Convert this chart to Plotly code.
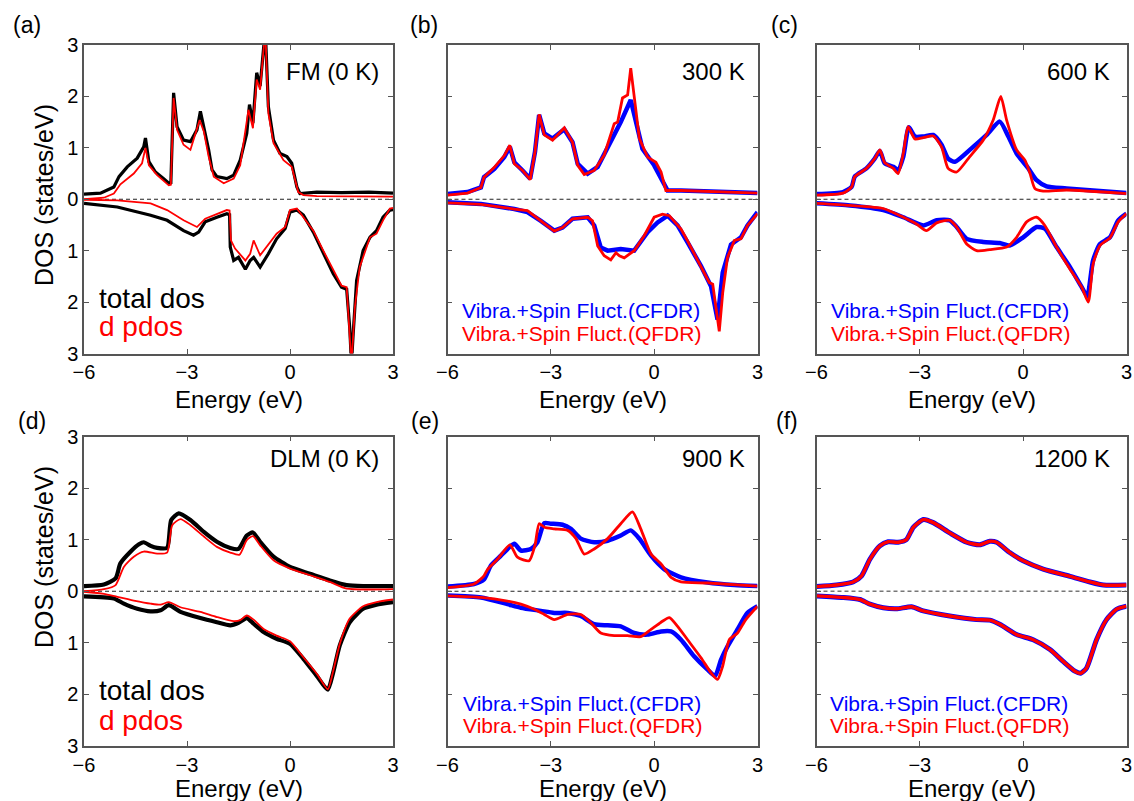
import plotly.graph_objects as go

W, H = 1134, 801

# ---------------- data: (energy eV, DOS states/eV); spin-down stored as negative ----------------
# (a) FM (0 K)
a_up_total = [(-6.00, 0.10), (-5.52, 0.12), (-5.13, 0.24), (-4.98, 0.44), (-4.74, 0.63), (-4.45, 0.80),
              (-4.26, 1.02), (-4.21, 1.19), (-4.11, 0.73), (-3.92, 0.53), (-3.68, 0.40), (-3.53, 0.31),
              (-3.47, 0.32), (-3.39, 2.07), (-3.29, 1.41), (-3.10, 1.15), (-2.90, 1.12), (-2.71, 1.35),
              (-2.61, 1.71), (-2.51, 1.41), (-2.37, 0.96), (-2.27, 0.57), (-2.13, 0.44), (-1.84, 0.40),
              (-1.64, 0.47), (-1.45, 0.76), (-1.26, 1.28), (-1.18, 1.84), (-1.08, 1.48), (-0.97, 2.46),
              (-0.87, 2.20), (-0.72, 3.30), (-0.63, 1.80), (-0.48, 1.15), (-0.29, 0.89), (-0.09, 0.83),
              (0.05, 0.70), (0.20, 0.24), (0.29, 0.11), (0.78, 0.14), (1.50, 0.13), (2.30, 0.14), (3.00, 0.12)]
a_up_d = [(-6.00, 0.00), (-5.42, 0.03), (-5.13, 0.11), (-4.94, 0.29), (-4.55, 0.50), (-4.31, 0.70),
          (-4.21, 1.00), (-4.11, 0.66), (-3.87, 0.47), (-3.53, 0.27), (-3.47, 0.28), (-3.39, 1.97),
          (-3.29, 1.35), (-3.10, 1.06), (-2.90, 0.96), (-2.63, 1.54), (-2.51, 1.32), (-2.37, 0.83),
          (-2.22, 0.44), (-1.93, 0.31), (-1.64, 0.40), (-1.45, 0.66), (-1.21, 1.74), (-1.08, 1.38),
          (-0.97, 2.33), (-0.87, 2.13), (-0.72, 3.30), (-0.63, 1.67), (-0.48, 1.09), (-0.19, 0.76),
          (0.05, 0.63), (0.24, 0.14), (0.39, 0.08), (0.78, 0.06), (3.00, 0.05)]
a_dn_total = [(-6.00, -0.08), (-5.03, -0.15), (-4.06, -0.31), (-3.58, -0.41), (-3.10, -0.61), (-2.81, -0.70),
              (-2.66, -0.64), (-2.47, -0.44), (-2.13, -0.35), (-1.84, -0.28), (-1.76, -0.30), (-1.74, -0.93),
              (-1.64, -1.19), (-1.50, -1.13), (-1.30, -1.36), (-1.16, -1.19), (-1.06, -1.13), (-0.87, -1.32),
              (-0.63, -1.06), (-0.39, -0.77), (-0.14, -0.57), (0.00, -0.25), (0.20, -0.21), (0.39, -0.31),
              (0.68, -0.64), (0.97, -1.06), (1.26, -1.45), (1.50, -1.71), (1.65, -1.75), (1.74, -2.50),
              (1.79, -3.20), (1.84, -2.62), (1.94, -1.58), (2.13, -1.00), (2.33, -0.74), (2.52, -0.61),
              (2.71, -0.35), (2.91, -0.21), (3.00, -0.20)]
a_dn_d = [(-6.00, -0.01), (-5.03, -0.02), (-4.06, -0.08), (-3.58, -0.21), (-3.10, -0.41), (-2.71, -0.54),
          (-2.47, -0.38), (-2.13, -0.28), (-1.84, -0.21), (-1.76, -0.22), (-1.72, -0.80), (-1.60, -0.96),
          (-1.30, -1.19), (-1.16, -1.06), (-1.06, -0.80), (-0.87, -1.09), (-0.63, -0.87), (-0.39, -0.67),
          (-0.14, -0.54), (0.00, -0.21), (0.20, -0.18), (0.68, -0.61), (0.97, -1.00), (1.26, -1.39),
          (1.50, -1.68), (1.65, -1.71), (1.79, -3.20), (1.89, -2.10), (2.03, -1.32), (2.33, -0.74),
          (2.52, -0.67), (2.71, -0.41), (2.91, -0.18), (3.00, -0.17)]

# (b) 300 K
b_up_cfdr = [(-6.00, 0.10), (-5.42, 0.14), (-5.03, 0.23), (-4.94, 0.43), (-4.64, 0.59), (-4.35, 0.82),
             (-4.19, 1.02), (-4.06, 0.72), (-3.82, 0.56), (-3.60, 0.40), (-3.46, 0.92), (-3.34, 1.64),
             (-3.19, 1.28), (-2.95, 1.18), (-2.61, 1.36), (-2.37, 1.11), (-2.22, 0.69), (-1.93, 0.50),
             (-1.64, 0.63), (-1.26, 1.11), (-0.97, 1.50), (-0.68, 1.93), (-0.53, 1.50), (-0.34, 0.98),
             (0.00, 0.66), (0.20, 0.40), (0.39, 0.17), (0.78, 0.17), (1.74, 0.15), (3.00, 0.12)]
b_up_qfdr = [(-6.00, 0.08), (-5.42, 0.12), (-5.03, 0.23), (-4.94, 0.43), (-4.64, 0.62), (-4.35, 0.85),
             (-4.19, 1.05), (-4.06, 0.69), (-3.82, 0.56), (-3.60, 0.38), (-3.46, 0.92), (-3.34, 1.65),
             (-3.19, 1.25), (-2.95, 1.15), (-2.61, 1.39), (-2.37, 1.11), (-2.22, 0.66), (-2.03, 0.48),
             (-1.74, 0.56), (-1.45, 0.86), (-1.16, 1.47), (-1.06, 1.50), (-0.92, 1.97), (-0.77, 2.03),
             (-0.68, 2.55), (-0.58, 1.99), (-0.43, 1.18), (-0.19, 0.82), (0.05, 0.72), (0.20, 0.53),
             (0.34, 0.17), (0.78, 0.17), (3.00, 0.12)]
b_dn_cfdr = [(-6.00, -0.06), (-5.03, -0.09), (-4.06, -0.19), (-3.68, -0.25), (-3.29, -0.42), (-2.90, -0.61),
             (-2.66, -0.55), (-2.37, -0.38), (-1.93, -0.35), (-1.74, -0.51), (-1.55, -0.94), (-1.35, -1.00),
             (-0.97, -0.97), (-0.58, -1.00), (-0.19, -0.64), (0.10, -0.45), (0.39, -0.32), (0.68, -0.51),
             (0.97, -0.84), (1.36, -1.30), (1.65, -1.69), (1.84, -2.34), (1.99, -1.43), (2.23, -0.88),
             (2.52, -0.74), (2.71, -0.51), (3.00, -0.25)]
b_dn_qfdr = [(-6.00, -0.07), (-5.03, -0.10), (-4.06, -0.19), (-3.68, -0.22), (-3.29, -0.42), (-2.90, -0.62),
             (-2.66, -0.55), (-2.37, -0.38), (-1.93, -0.35), (-1.79, -0.42), (-1.64, -0.91), (-1.45, -1.10),
             (-1.26, -1.18), (-1.11, -1.04), (-1.01, -1.10), (-0.87, -1.14), (-0.58, -1.00), (-0.29, -0.71),
             (0.00, -0.35), (0.24, -0.29), (0.44, -0.32), (0.78, -0.58), (0.97, -0.81), (1.36, -1.33),
             (1.60, -1.62), (1.70, -1.65), (1.79, -2.08), (1.89, -2.57), (1.99, -1.82), (2.13, -1.13),
             (2.33, -0.80), (2.52, -0.77), (2.71, -0.51), (3.00, -0.28)]

# (c) 600 K
c_up_cfdr = [(-6.00, 0.10), (-5.23, 0.14), (-4.98, 0.24), (-4.89, 0.44), (-4.55, 0.60), (-4.31, 0.79),
             (-4.16, 0.94), (-4.02, 0.70), (-3.77, 0.63), (-3.63, 0.57), (-3.48, 0.83), (-3.32, 1.40),
             (-3.14, 1.22), (-2.90, 1.22), (-2.61, 1.25), (-2.37, 1.06), (-2.18, 0.79), (-1.98, 0.73),
             (-1.55, 0.96), (-1.06, 1.25), (-0.68, 1.51), (-0.43, 1.22), (-0.19, 0.89), (0.15, 0.60),
             (0.39, 0.37), (0.68, 0.25), (1.26, 0.21), (3.00, 0.12)]
c_up_qfdr = [(-6.00, 0.08), (-5.23, 0.12), (-4.98, 0.24), (-4.89, 0.44), (-4.55, 0.60), (-4.31, 0.79),
             (-4.16, 0.96), (-4.02, 0.71), (-3.77, 0.60), (-3.63, 0.50), (-3.48, 0.89), (-3.34, 1.41),
             (-3.14, 1.17), (-2.90, 1.20), (-2.61, 1.23), (-2.37, 1.02), (-2.18, 0.60), (-1.93, 0.53),
             (-1.55, 0.83), (-1.16, 1.15), (-0.87, 1.54), (-0.65, 2.00), (-0.48, 1.54), (-0.19, 0.96),
             (0.05, 0.76), (0.20, 0.50), (0.34, 0.21), (0.58, 0.16), (1.26, 0.18), (3.00, 0.11)]
c_dn_cfdr = [(-6.00, -0.08), (-5.03, -0.12), (-4.06, -0.21), (-3.48, -0.35), (-2.90, -0.51), (-2.51, -0.41),
             (-2.13, -0.41), (-1.93, -0.54), (-1.64, -0.77), (-1.16, -0.83), (-0.68, -0.85), (-0.39, -0.90),
             (0.00, -0.74), (0.39, -0.54), (0.63, -0.57), (0.97, -0.93), (1.36, -1.32), (1.70, -1.71),
             (1.86, -1.88), (2.03, -1.19), (2.23, -0.87), (2.52, -0.74), (2.76, -0.41), (3.00, -0.28)]
c_dn_qfdr = [(-6.00, -0.08), (-5.03, -0.12), (-4.06, -0.18), (-3.48, -0.35), (-3.10, -0.48), (-2.81, -0.61),
             (-2.51, -0.46), (-2.13, -0.41), (-1.93, -0.54), (-1.64, -0.87), (-1.35, -1.00), (-0.97, -0.98),
             (-0.48, -0.93), (-0.19, -0.74), (0.10, -0.44), (0.39, -0.35), (0.63, -0.51), (0.97, -0.93),
             (1.36, -1.36), (1.70, -1.71), (1.89, -2.00), (2.03, -1.26), (2.23, -0.90), (2.52, -0.75),
             (2.76, -0.44), (3.00, -0.28)]

# (d) DLM (0 K)
d_up_total = [(-6.00, 0.10), (-5.42, 0.13), (-5.08, 0.25), (-4.94, 0.54), (-4.64, 0.77), (-4.40, 0.91),
              (-4.26, 0.95), (-4.06, 0.88), (-3.87, 0.84), (-3.58, 0.84), (-3.46, 1.38), (-3.24, 1.51),
              (-2.90, 1.38), (-2.51, 1.15), (-2.13, 0.96), (-1.74, 0.84), (-1.50, 0.82), (-1.26, 1.08),
              (-1.08, 1.14), (-0.87, 0.96), (-0.48, 0.67), (0.00, 0.47), (0.58, 0.34), (1.16, 0.21),
              (1.65, 0.12), (2.13, 0.10), (3.00, 0.10)]
d_up_d = [(-6.00, 0.00), (-5.42, 0.04), (-5.08, 0.12), (-4.84, 0.47), (-4.55, 0.67), (-4.26, 0.77),
          (-3.87, 0.73), (-3.58, 0.75), (-3.43, 1.28), (-3.19, 1.40), (-2.90, 1.28), (-2.51, 1.06),
          (-2.13, 0.86), (-1.74, 0.75), (-1.47, 0.71), (-1.26, 0.99), (-1.08, 1.07), (-0.87, 0.89),
          (-0.48, 0.60), (0.00, 0.44), (0.58, 0.31), (1.16, 0.18), (1.65, 0.05), (3.00, 0.04)]
d_dn_total = [(-6.00, -0.10), (-5.13, -0.14), (-4.84, -0.24), (-4.45, -0.34), (-4.06, -0.39), (-3.77, -0.37),
              (-3.53, -0.27), (-3.19, -0.40), (-2.61, -0.52), (-2.13, -0.60), (-1.74, -0.66), (-1.50, -0.61),
              (-1.26, -0.52), (-1.06, -0.63), (-0.77, -0.79), (-0.39, -0.92), (0.00, -1.02), (0.39, -1.31),
              (0.78, -1.64), (1.10, -1.91), (1.26, -1.57), (1.45, -1.05), (1.74, -0.60), (2.13, -0.34),
              (2.52, -0.26), (3.00, -0.21)]
d_dn_d = [(-6.00, -0.01), (-5.42, -0.05), (-5.03, -0.11), (-4.55, -0.18), (-4.06, -0.24), (-3.77, -0.26),
          (-3.53, -0.21), (-3.19, -0.31), (-2.61, -0.40), (-2.13, -0.50), (-1.64, -0.58), (-1.45, -0.56),
          (-1.26, -0.47), (-1.06, -0.55), (-0.77, -0.73), (-0.39, -0.86), (0.00, -0.97), (0.39, -1.28),
          (0.78, -1.60), (1.10, -1.90), (1.26, -1.54), (1.45, -1.02), (1.74, -0.53), (2.13, -0.29),
          (2.52, -0.21), (3.00, -0.16)]

# (e) 900 K
e_up_cfdr = [(-6.00, 0.09), (-5.23, 0.14), (-4.94, 0.23), (-4.74, 0.50), (-4.45, 0.69), (-4.21, 0.85),
             (-4.06, 0.92), (-3.87, 0.79), (-3.58, 0.82), (-3.39, 0.95), (-3.19, 1.32), (-3.00, 1.31),
             (-2.66, 1.29), (-2.42, 1.21), (-2.13, 1.02), (-1.74, 0.95), (-1.35, 0.98), (-0.97, 1.08),
             (-0.68, 1.18), (-0.43, 1.02), (-0.09, 0.69), (0.29, 0.43), (0.78, 0.27), (1.55, 0.17),
             (2.33, 0.12), (3.00, 0.10)]
e_up_qfdr = [(-6.00, 0.07), (-5.23, 0.14), (-4.94, 0.30), (-4.84, 0.42), (-4.55, 0.62), (-4.19, 0.90),
             (-3.97, 0.66), (-3.63, 0.59), (-3.46, 0.89), (-3.34, 1.31), (-3.19, 1.24), (-2.90, 1.21),
             (-2.51, 1.18), (-2.27, 1.02), (-2.03, 0.72), (-1.74, 0.82), (-1.35, 1.02), (-0.97, 1.31),
             (-0.63, 1.54), (-0.39, 1.21), (-0.09, 0.72), (0.20, 0.53), (0.49, 0.27), (0.78, 0.18),
             (1.55, 0.16), (3.00, 0.10)]
e_dn_cfdr = [(-6.00, -0.08), (-5.03, -0.12), (-4.26, -0.25), (-3.87, -0.32), (-3.29, -0.38), (-2.90, -0.42),
             (-2.51, -0.42), (-2.13, -0.48), (-1.74, -0.64), (-1.35, -0.66), (-0.97, -0.68), (-0.58, -0.81),
             (-0.19, -0.84), (0.20, -0.78), (0.49, -0.78), (0.78, -0.94), (1.16, -1.26), (1.55, -1.52),
             (1.77, -1.64), (1.94, -1.33), (2.13, -1.07), (2.42, -0.74), (2.71, -0.42), (3.00, -0.29)]
e_dn_qfdr = [(-6.00, -0.09), (-5.03, -0.12), (-4.26, -0.19), (-3.87, -0.25), (-3.48, -0.35), (-3.19, -0.45),
             (-2.90, -0.55), (-2.51, -0.45), (-2.13, -0.45), (-1.84, -0.61), (-1.55, -0.81), (-1.16, -0.86),
             (-0.77, -0.86), (-0.39, -0.88), (-0.09, -0.74), (0.20, -0.60), (0.44, -0.51), (0.68, -0.68),
             (0.97, -0.94), (1.36, -1.29), (1.65, -1.58), (1.84, -1.71), (1.99, -1.45), (2.18, -0.94),
             (2.42, -0.81), (2.66, -0.55), (3.00, -0.29)]

# (f) 1200 K  (CFDR and QFDR coincide)
f_up_cfdr = [(-6.00, 0.09), (-5.42, 0.12), (-4.94, 0.18), (-4.69, 0.30), (-4.45, 0.62), (-4.16, 0.88),
             (-3.92, 0.96), (-3.63, 0.95), (-3.39, 1.00), (-3.19, 1.24), (-2.90, 1.39), (-2.61, 1.33),
             (-2.13, 1.13), (-1.64, 0.95), (-1.26, 0.90), (-0.97, 0.97), (-0.77, 0.95), (-0.39, 0.75),
             (0.00, 0.59), (0.58, 0.43), (1.36, 0.29), (1.94, 0.18), (2.33, 0.12), (3.00, 0.12)]
f_up_qfdr = [(-6.00, 0.09), (-5.42, 0.12), (-4.94, 0.18), (-4.69, 0.30), (-4.45, 0.62), (-4.16, 0.88),
             (-3.92, 0.96), (-3.63, 0.95), (-3.39, 1.00), (-3.19, 1.24), (-2.90, 1.39), (-2.61, 1.33),
             (-2.13, 1.13), (-1.64, 0.95), (-1.26, 0.90), (-0.97, 0.97), (-0.77, 0.95), (-0.39, 0.75),
             (0.00, 0.59), (0.58, 0.43), (1.36, 0.29), (1.94, 0.18), (2.33, 0.12), (3.00, 0.12)]
f_dn_cfdr = [(-6.00, -0.09), (-5.23, -0.12), (-4.74, -0.16), (-4.45, -0.25), (-4.06, -0.32), (-3.68, -0.34),
             (-3.24, -0.30), (-2.90, -0.38), (-2.13, -0.48), (-1.35, -0.55), (-0.97, -0.56), (-0.68, -0.64),
             (-0.19, -0.84), (0.29, -0.94), (0.78, -1.13), (1.16, -1.36), (1.50, -1.55), (1.67, -1.59),
             (1.84, -1.49), (2.13, -0.94), (2.42, -0.55), (2.71, -0.35), (3.00, -0.29)]
f_dn_qfdr = [(-6.00, -0.09), (-5.23, -0.12), (-4.74, -0.16), (-4.45, -0.25), (-4.06, -0.32), (-3.68, -0.34),
             (-3.24, -0.30), (-2.90, -0.38), (-2.13, -0.48), (-1.35, -0.55), (-0.97, -0.56), (-0.68, -0.64),
             (-0.19, -0.84), (0.29, -0.94), (0.78, -1.13), (1.16, -1.36), (1.50, -1.55), (1.67, -1.59),
             (1.84, -1.49), (2.13, -0.94), (2.42, -0.55), (2.71, -0.35), (3.00, -0.29)]

x_ticks = [-6, -3, 0, 3]
y_ticks = [-3, -2, -1, 0, 1, 2, 3]
y_ticktext = ["3", "2", "1", "0", "1", "2", "3"]
panel_labels = ["(a)", "(b)", "(c)", "(d)", "(e)", "(f)"]
panel_titles = ["FM (0 K)", "300 K", "600 K", "DLM (0 K)", "900 K", "1200 K"]
legend_dos = ["total dos", "d pdos"]
legend_fdr = ["Vibra.+Spin Fluct.(CFDR)", "Vibra.+Spin Fluct.(QFDR)"]

# ---------------- styling ----------------
FONT = "Liberation Sans, Arial, Helvetica, sans-serif"
BLACK, RED, BLUE = "#000000", "#ff0000", "#0000ff"
AX = "#555555"

cols = [(84, 393), (447.5, 757.5), (816.5, 1126.5)]
rows = [(45, 353.5), (436.5, 746)]

panels = [
    [(a_up_total, BLACK, 3.2), (a_dn_total, BLACK, 3.2), (a_up_d, RED, 1.8), (a_dn_d, RED, 1.8)],
    [(b_up_cfdr, BLUE, 4.5), (b_dn_cfdr, BLUE, 4.5), (b_up_qfdr, RED, 2.8), (b_dn_qfdr, RED, 2.8)],
    [(c_up_cfdr, BLUE, 4.5), (c_dn_cfdr, BLUE, 4.5), (c_up_qfdr, RED, 2.8), (c_dn_qfdr, RED, 2.8)],
    [(d_up_total, BLACK, 4.2), (d_dn_total, BLACK, 4.2), (d_up_d, RED, 1.8), (d_dn_d, RED, 1.8)],
    [(e_up_cfdr, BLUE, 4.5), (e_dn_cfdr, BLUE, 4.5), (e_up_qfdr, RED, 2.8), (e_dn_qfdr, RED, 2.8)],
    [(f_up_cfdr, BLUE, 5.0), (f_dn_cfdr, BLUE, 5.0), (f_up_qfdr, RED, 3.4), (f_dn_qfdr, RED, 3.4)],
]
shapes_mode = ["linear", "linear", "spline", "spline", "spline", "spline"]


def fx(p):
    return p / W


def fy(p):
    return 1 - p / H


fig = go.Figure()
layout = dict(width=W, height=H, margin=dict(l=0, r=0, t=0, b=0, autoexpand=False),
              paper_bgcolor="white", plot_bgcolor="white", showlegend=False,
              font=dict(family=FONT, color="black"))
annotations = []
shapes = []

for i in range(6):
    r, c = divmod(i, 3)
    xs = "" if i == 0 else str(i + 1)
    x0, x1 = cols[c]
    y0, y1 = rows[r]
    for series, color, width in panels[i]:
        fig.add_trace(go.Scatter(
            x=[p[0] for p in series], y=[p[1] for p in series], mode="lines",
            line=dict(color=color, width=width, shape=shapes_mode[i], smoothing=0.6),
            xaxis="x" + xs, yaxis="y" + xs, hoverinfo="skip"))
    layout["xaxis" + xs] = dict(
        domain=[fx(x0), fx(x1)], anchor="y" + xs, range=[-6, 3], tickvals=x_ticks,
        showline=True, mirror="allticks", linecolor=AX, linewidth=1.5,
        ticks="inside", ticklen=5, tickwidth=1.2, tickcolor=AX, automargin=False,
        showgrid=False, zeroline=False, tickfont=dict(family=FONT, size=20, color="black"))
    layout["yaxis" + xs] = dict(
        domain=[fy(y1), fy(y0)], anchor="x" + xs, range=[-3, 3], tickvals=y_ticks,
        ticktext=y_ticktext, showticklabels=(c == 0), automargin=False,
        showline=True, mirror="allticks", linecolor=AX, linewidth=1.5,
        ticks="inside", ticklen=5, tickwidth=1.2, tickcolor=AX,
        showgrid=False, zeroline=False, tickfont=dict(family=FONT, size=20, color="black"))
    shapes.append(dict(type="line", xref="x" + xs, yref="y" + xs, x0=-6, x1=3, y0=0, y1=0,
                       layer="below",
                       line=dict(color="#777777" if i == 5 else "#222222", width=1.3 if i == 5 else 1,
                                 dash="4px,3px")))

    # panel letter
    lab_x = [11, 408, 769][c] if r == 0 else [16, 409, 774][c]
    lab_y = 25 if r == 0 else 421
    annotations.append(dict(text=panel_labels[i], xref="paper", yref="paper", x=fx(lab_x), y=fy(lab_y),
                            xanchor="left", yanchor="middle", showarrow=False,
                            font=dict(family=FONT, size=23, color="black")))
    # temperature / state label
    tr = [381, 747, 1112][c]
    ty = 71 if r == 0 else 459
    annotations.append(dict(text=panel_titles[i], xref="paper", yref="paper", x=fx(tr), y=fy(ty),
                            xanchor="right", yanchor="middle", showarrow=False,
                            font=dict(family=FONT, size=24, color="black")))
    # x axis title
    annotations.append(dict(text="Energy (eV)", xref="paper", yref="paper", x=fx((x0 + x1) / 2),
                            y=fy(399 if r == 0 else 788), xanchor="center", yanchor="middle",
                            showarrow=False, font=dict(family=FONT, size=24, color="black")))
    # in-panel legends
    if c == 0:
        ly = [(298, 326), (690, 720)][r]
        for txt, col, yy in zip(legend_dos, [BLACK, RED], ly):
            annotations.append(dict(text=txt, xref="paper", yref="paper", x=fx(97), y=fy(yy),
                                    xanchor="left", yanchor="middle", showarrow=False,
                                    font=dict(family=FONT, size=28, color=col)))
    else:
        lx = [460, 829][c - 1] if r == 0 else [461, 828][c - 1]
        ly = [(310, 333), (703, 725)][r]
        for txt, col, yy in zip(legend_fdr, [BLUE, RED], ly):
            annotations.append(dict(text=txt, xref="paper", yref="paper", x=fx(lx), y=fy(yy),
                                    xanchor="left", yanchor="middle", showarrow=False,
                                    font=dict(family=FONT, size=21, color=col)))

# y axis titles
for yc in (195, 557):
    annotations.append(dict(text="DOS (states/eV)", xref="paper", yref="paper", x=fx(44), y=fy(yc),
                            xanchor="center", yanchor="middle", textangle=-90, showarrow=False,
                            font=dict(family=FONT, size=25, color="black")))

layout["annotations"] = annotations
layout["shapes"] = shapes
fig.update_layout(**layout)
fig.write_html("out.html")
